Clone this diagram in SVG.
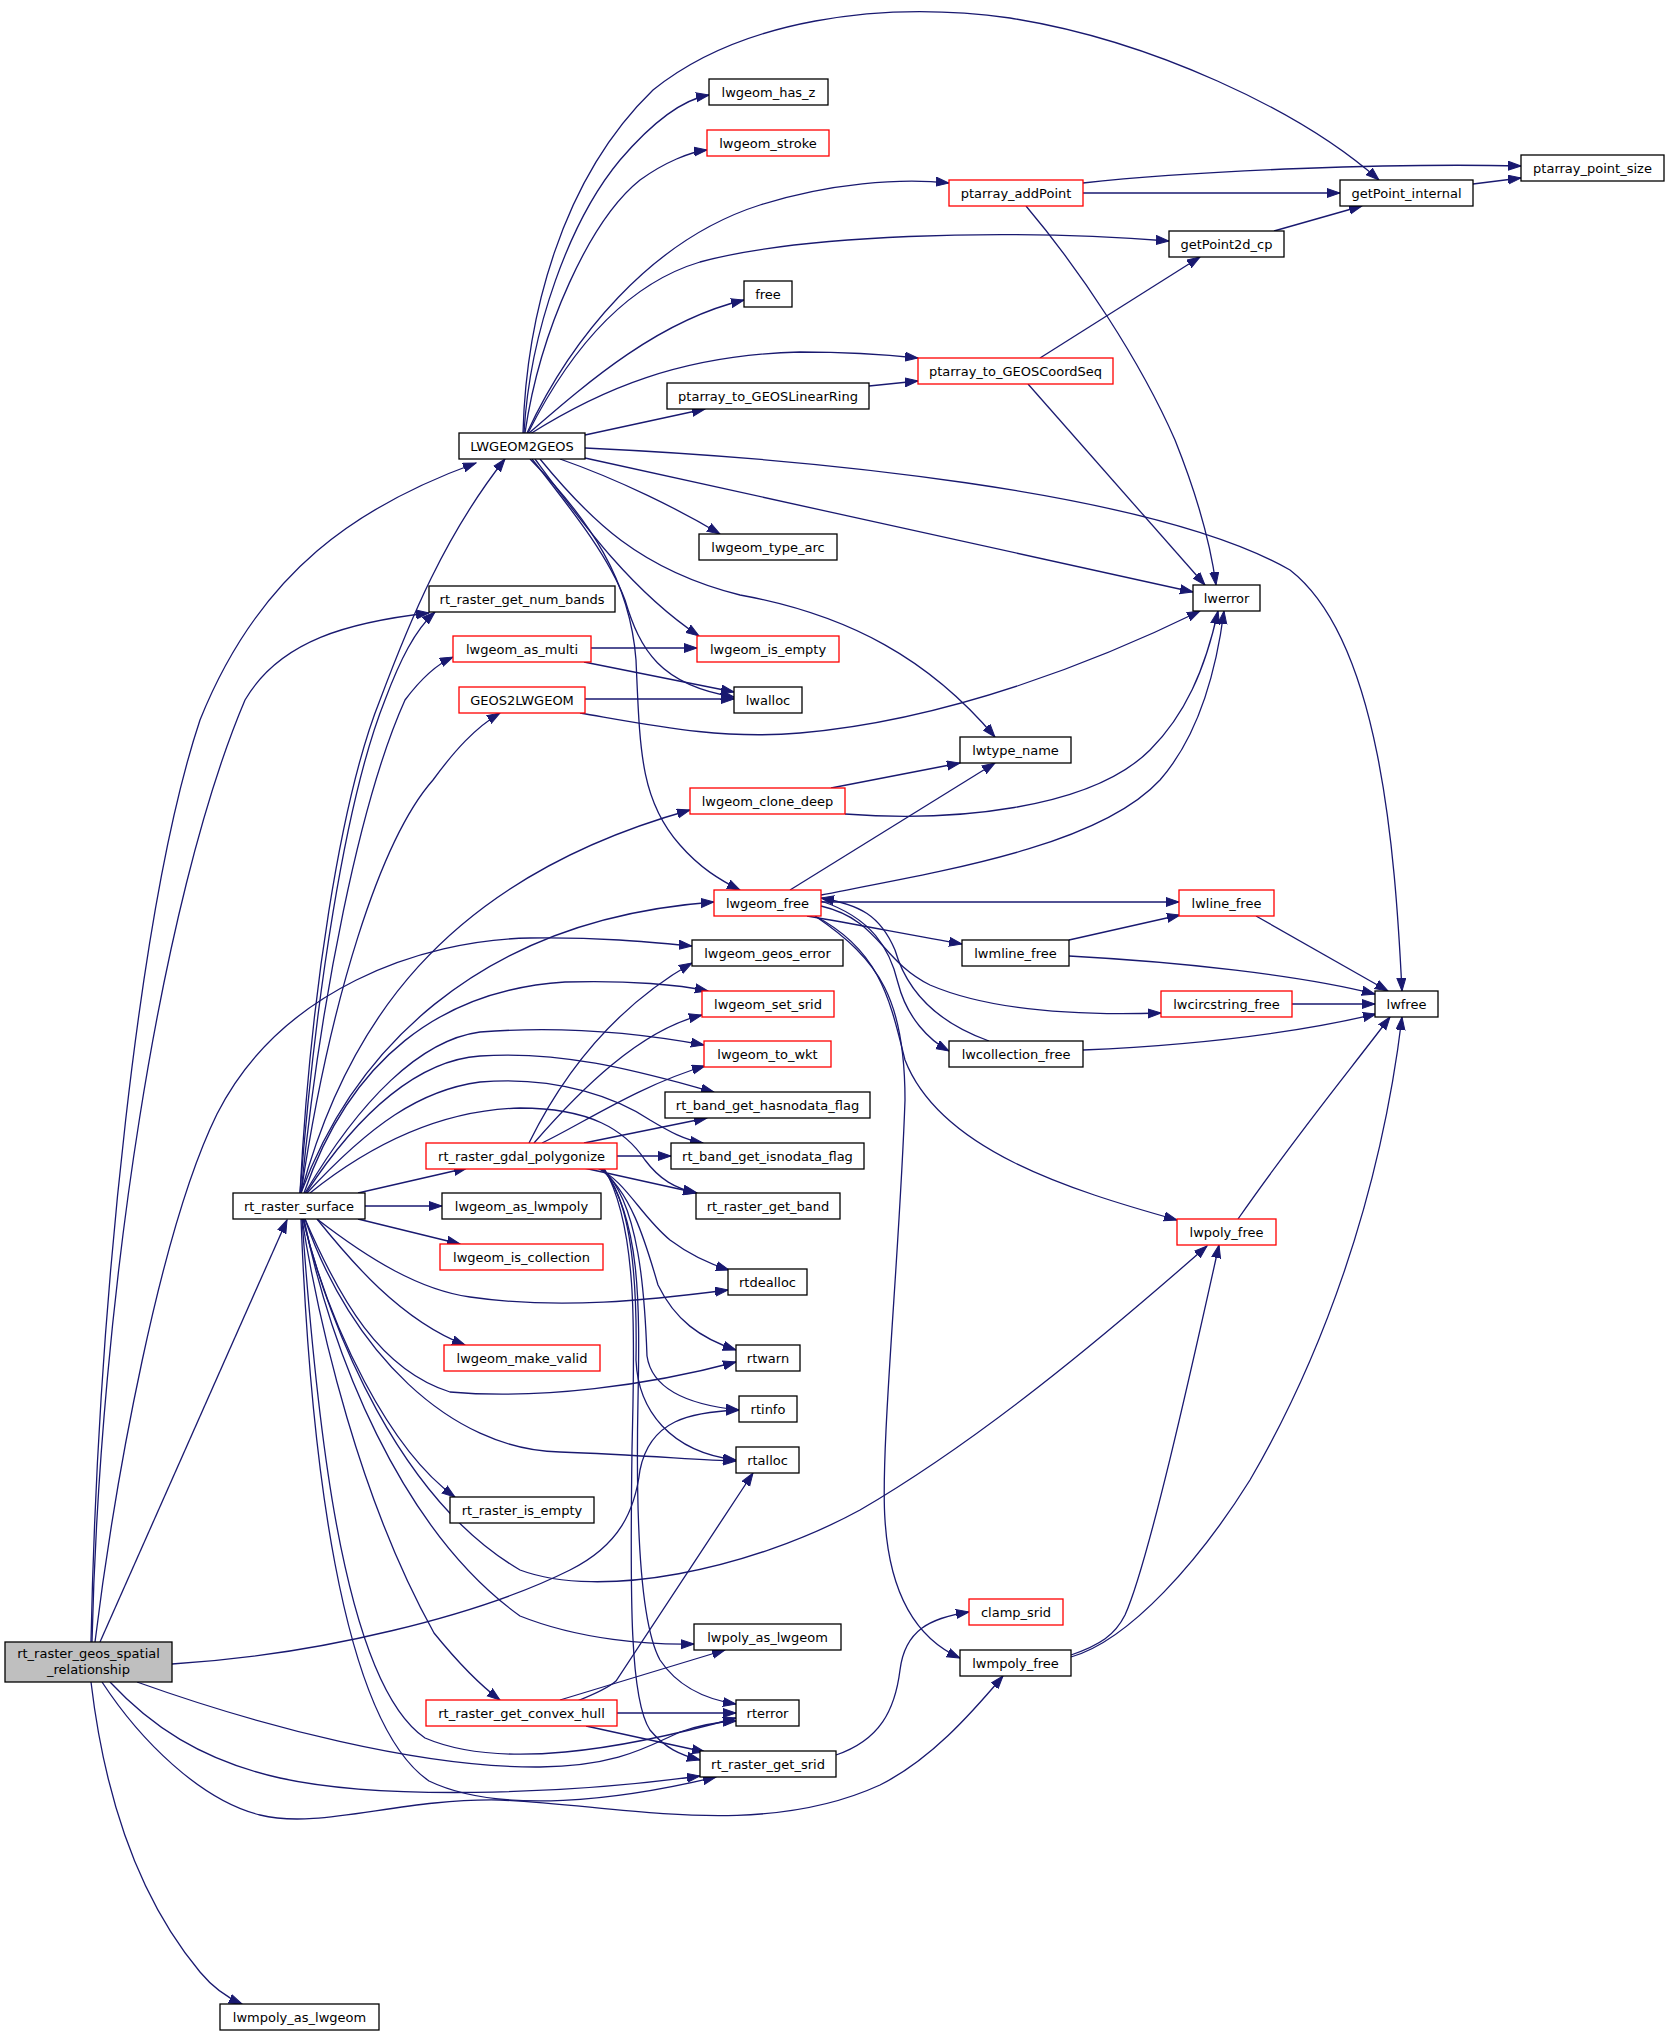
<svg xmlns="http://www.w3.org/2000/svg" width="1669" height="2036" viewBox="0 0 1669 2036">
<style>
.n rect{fill:#fff;stroke:#000;stroke-width:1.3}
.r rect{stroke:#f00}
.m rect{fill:#bfbfbf;stroke:#000;stroke-width:1.3}
text{font-family:"DejaVu Sans","Liberation Sans",sans-serif;font-size:13px;text-anchor:middle;fill:#000}
#edges path{fill:none;stroke:#191970;stroke-width:1.3;marker-end:url(#a)}
</style>
<defs>
<marker id="a" markerUnits="userSpaceOnUse" markerWidth="14" markerHeight="11" refX="13" refY="5" orient="auto"><path d="M0,0.5 L13,5 L0,9.5 z" fill="#191970" stroke="#191970" stroke-width="1"/></marker>
</defs>
<rect width="1669" height="2036" fill="#fff"/>
<g id="edges">
<path d="M91,1642 C98,1300 140,900 200,720 C260,570 360,505 476,463"/>
<path d="M92,1642 C100,1300 160,900 245,700 C280,640 350,622 429,613"/>
<path d="M100,1642 L287,1220"/>
<path d="M95,1642 C115,1480 160,1230 217,1114 C280,990 420,940 530,938 C600,937 650,942 692,946"/>
<path d="M172,1664 C320,1655 480,1615 570,1570 C620,1545 635,1510 640,1470 C650,1420 690,1412 739,1410"/>
<path d="M137,1682 C260,1726 420,1768 540,1767 C620,1766 650,1745 680,1732 C700,1725 718,1722 736,1721"/>
<path d="M110,1682 C150,1725 200,1760 280,1778 C380,1800 560,1795 700,1776"/>
<path d="M102,1682 C140,1740 200,1800 260,1815 C320,1830 400,1798 500,1800 C620,1805 760,1840 880,1785 C930,1760 970,1715 1003,1676"/>
<path d="M91,1682 C105,1800 140,1900 200,1972 C215,1990 228,1998 242,2004"/>
<path d="M300,1193 C310,1000 340,800 380,700 C410,620 445,535 505,459"/>
<path d="M300,1193 C315,1000 345,800 385,700 C400,660 415,630 435,612"/>
<path d="M301,1193 C320,1000 360,800 405,700 C420,680 435,665 453,657"/>
<path d="M301,1193 C330,1000 380,840 433,780 C455,750 475,728 500,713"/>
<path d="M301,1193 C345,1030 440,880 690,810"/>
<path d="M301,1193 C350,1060 470,920 714,902"/>
<path d="M304,1193 C350,1060 440,990 565,982 C630,980 680,985 708,991"/>
<path d="M305,1193 C360,1100 420,1040 480,1032 C570,1025 650,1035 704,1045"/>
<path d="M306,1193 C360,1110 420,1060 480,1056 C570,1050 650,1075 714,1092"/>
<path d="M307,1193 C370,1125 420,1090 480,1082 C560,1075 620,1100 650,1120 C670,1132 685,1140 703,1143"/>
<path d="M310,1193 C370,1145 440,1110 520,1108 C590,1108 625,1130 645,1160 C660,1180 675,1188 696,1193"/>
<path d="M358,1193 L467,1168"/>
<path d="M365,1206 L442,1206"/>
<path d="M358,1219 L460,1244"/>
<path d="M317,1219 C370,1260 420,1290 470,1297 C560,1310 650,1300 728,1290"/>
<path d="M317,1219 C350,1260 400,1320 465,1345"/>
<path d="M305,1219 C340,1300 380,1370 450,1392 C540,1400 650,1385 736,1362"/>
<path d="M305,1219 C350,1350 450,1450 560,1452 C640,1455 700,1460 736,1461"/>
<path d="M303,1219 C330,1330 390,1450 455,1497"/>
<path d="M303,1219 C330,1330 400,1500 520,1570 C600,1600 750,1570 860,1510 C980,1440 1100,1340 1207,1246"/>
<path d="M304,1219 C330,1350 400,1530 520,1616 C580,1640 650,1645 694,1644"/>
<path d="M302,1219 C320,1330 360,1500 434,1633 C460,1665 480,1685 500,1700"/>
<path d="M302,1219 C315,1400 340,1680 425,1738 C500,1770 620,1750 736,1718"/>
<path d="M301,1219 C310,1450 340,1720 429,1781 C500,1815 620,1800 716,1777"/>
<path d="M523,433 C526,320 560,180 653,90 C740,20 880,0 1010,18 C1150,40 1300,110 1379,180"/>
<path d="M524,433 C530,330 570,220 620,160 C650,125 680,100 709,95"/>
<path d="M525,433 C540,330 590,220 640,180 C665,162 690,152 707,150"/>
<path d="M527,433 C570,340 650,240 760,205 C830,183 900,178 949,183"/>
<path d="M528,433 C580,330 640,280 700,262 C800,235 1000,228 1169,241"/>
<path d="M529,433 C590,380 660,320 744,300"/>
<path d="M530,434 C600,390 680,355 800,352 C850,352 890,355 918,358"/>
<path d="M585,435 L705,409"/>
<path d="M585,448 C800,458 1150,490 1290,570 C1380,640 1395,850 1402,991"/>
<path d="M585,458 L1193,592"/>
<path d="M560,459 C620,480 680,510 720,534"/>
<path d="M540,459 C590,520 640,570 740,595 C850,615 930,660 995,737"/>
<path d="M535,459 C580,520 630,590 699,636"/>
<path d="M532,459 C580,520 610,560 625,600 C640,650 660,685 734,697"/>
<path d="M530,459 C590,520 630,580 636,660 C640,750 640,800 680,845 C700,868 720,880 740,890"/>
<path d="M1083,183 C1200,170 1400,163 1521,166"/>
<path d="M1083,193 L1340,193"/>
<path d="M1026,206 C1080,270 1140,360 1175,440 C1195,490 1210,540 1216,585"/>
<path d="M1040,358 L1200,257"/>
<path d="M1028,384 L1205,585"/>
<path d="M869,386 L918,381"/>
<path d="M1473,184 L1521,178"/>
<path d="M1274,231 L1362,206"/>
<path d="M591,648 L697,648"/>
<path d="M584,662 L734,692"/>
<path d="M585,699 L734,699"/>
<path d="M580,713 C650,725 720,740 800,733 C950,720 1100,660 1200,611"/>
<path d="M831,788 L960,763"/>
<path d="M845,814 C950,822 1090,810 1150,750 C1185,715 1205,670 1218,611"/>
<path d="M821,895 C950,870 1100,845 1160,780 C1195,740 1215,680 1224,611"/>
<path d="M790,890 L995,763"/>
<path d="M821,902 L1179,902"/>
<path d="M807,916 C860,925 910,935 962,944"/>
<path d="M1069,940 L1180,915"/>
<path d="M1069,956 C1180,962 1300,975 1375,994"/>
<path d="M821,906 C880,920 880,960 930,985 C1000,1015 1100,1015 1161,1013"/>
<path d="M1292,1004 L1375,1004"/>
<path d="M1256,916 L1388,991"/>
<path d="M821,901 C872,918 890,949 898,983 C907,1018 929,1040 949,1051"/>
<path d="M989,1041 C930,1020 905,985 895,950 C880,915 860,905 821,898"/>
<path d="M1083,1050 C1200,1045 1300,1032 1376,1014"/>
<path d="M815,916 C880,950 890,1000 905,1060 C940,1150 1070,1190 1177,1220"/>
<path d="M815,916 C880,960 905,1000 905,1100 C900,1250 880,1450 885,1520 C890,1600 920,1640 960,1658"/>
<path d="M1238,1219 C1300,1130 1350,1070 1390,1017"/>
<path d="M1071,1655 C1100,1645 1115,1635 1125,1615 C1150,1560 1200,1330 1219,1245"/>
<path d="M1071,1657 C1130,1640 1200,1560 1250,1480 C1320,1360 1380,1200 1402,1017"/>
<path d="M836,1755 C880,1740 895,1710 900,1670 C905,1630 930,1618 969,1612"/>
<path d="M617,1713 L736,1713"/>
<path d="M560,1700 L725,1650"/>
<path d="M577,1701 C595,1694 608,1688 616,1681 L753,1473"/>
<path d="M586,1726 L705,1752"/>
<path d="M529,1143 C560,1080 610,1010 692,963"/>
<path d="M534,1143 C580,1090 640,1030 702,1015"/>
<path d="M542,1143 C580,1125 640,1085 705,1066"/>
<path d="M584,1143 L707,1118"/>
<path d="M617,1156 L671,1156"/>
<path d="M584,1168 L697,1193"/>
<path d="M597,1168 C625,1180 640,1215 670,1240 C690,1255 710,1264 729,1270"/>
<path d="M599,1168 C630,1190 645,1240 658,1285 C675,1320 700,1338 736,1350"/>
<path d="M601,1168 C640,1200 645,1300 647,1356 C652,1390 690,1405 739,1410"/>
<path d="M601,1168 C635,1200 637,1300 636,1360 C638,1410 670,1452 736,1460"/>
<path d="M603,1168 C640,1220 640,1300 638,1400 C636,1500 638,1620 660,1660 C680,1690 710,1700 736,1704"/>
<path d="M604,1168 C640,1230 634,1350 632,1450 C630,1600 630,1700 650,1730 C665,1748 680,1755 700,1760"/>
</g>
<g id="n_main" class="m"><rect x="5" y="1642" width="167" height="40"/><text x="88.5" y="1658">rt_raster_geos_spatial</text><text x="88.5" y="1674">_relationship</text></g>
<g id="n_LWGEOM2GEOS" class="n"><rect x="459" y="433" width="126" height="26"/><text x="522" y="450.5">LWGEOM2GEOS</text></g>
<g id="n_rt_raster_get_num_bands" class="n"><rect x="429" y="586" width="186" height="26"/><text x="522" y="603.5">rt_raster_get_num_bands</text></g>
<g id="n_lwgeom_as_multi" class="n r"><rect x="453" y="636" width="138" height="26"/><text x="522" y="653.5">lwgeom_as_multi</text></g>
<g id="n_GEOS2LWGEOM" class="n r"><rect x="459" y="687" width="126" height="26"/><text x="522" y="704.5">GEOS2LWGEOM</text></g>
<g id="n_rt_raster_surface" class="n"><rect x="233" y="1193" width="132" height="26"/><text x="299" y="1210.5">rt_raster_surface</text></g>
<g id="n_lwmpoly_as_lwgeom" class="n"><rect x="220" y="2004" width="159" height="26"/><text x="299.5" y="2021.5">lwmpoly_as_lwgeom</text></g>
<g id="n_lwgeom_has_z" class="n"><rect x="709" y="79" width="119" height="26"/><text x="768.5" y="96.5">lwgeom_has_z</text></g>
<g id="n_lwgeom_stroke" class="n r"><rect x="707" y="130" width="122" height="26"/><text x="768" y="147.5">lwgeom_stroke</text></g>
<g id="n_ptarray_addPoint" class="n r"><rect x="949" y="180" width="134" height="26"/><text x="1016" y="197.5">ptarray_addPoint</text></g>
<g id="n_free" class="n"><rect x="744" y="281" width="48" height="26"/><text x="768" y="298.5">free</text></g>
<g id="n_ptarray_to_GEOSCoordSeq" class="n r"><rect x="918" y="358" width="195" height="26"/><text x="1015.5" y="375.5">ptarray_to_GEOSCoordSeq</text></g>
<g id="n_ptarray_to_GEOSLinearRing" class="n"><rect x="667" y="383" width="202" height="26"/><text x="768" y="400.5">ptarray_to_GEOSLinearRing</text></g>
<g id="n_lwgeom_type_arc" class="n"><rect x="699" y="534" width="138" height="26"/><text x="768" y="551.5">lwgeom_type_arc</text></g>
<g id="n_lwgeom_is_empty" class="n r"><rect x="697" y="636" width="142" height="26"/><text x="768" y="653.5">lwgeom_is_empty</text></g>
<g id="n_lwalloc" class="n"><rect x="734" y="687" width="68" height="26"/><text x="768" y="704.5">lwalloc</text></g>
<g id="n_lwtype_name" class="n"><rect x="960" y="737" width="111" height="26"/><text x="1015.5" y="754.5">lwtype_name</text></g>
<g id="n_lwgeom_clone_deep" class="n r"><rect x="690" y="788" width="155" height="26"/><text x="767.5" y="805.5">lwgeom_clone_deep</text></g>
<g id="n_lwgeom_free" class="n r"><rect x="714" y="890" width="107" height="26"/><text x="767.5" y="907.5">lwgeom_free</text></g>
<g id="n_lwgeom_geos_error" class="n"><rect x="692" y="940" width="151" height="26"/><text x="767.5" y="957.5">lwgeom_geos_error</text></g>
<g id="n_lwgeom_set_srid" class="n r"><rect x="702" y="991" width="132" height="26"/><text x="768" y="1008.5">lwgeom_set_srid</text></g>
<g id="n_lwgeom_to_wkt" class="n r"><rect x="704" y="1041" width="127" height="26"/><text x="767.5" y="1058.5">lwgeom_to_wkt</text></g>
<g id="n_rt_band_get_hasnodata_flag" class="n"><rect x="665" y="1092" width="205" height="26"/><text x="767.5" y="1109.5">rt_band_get_hasnodata_flag</text></g>
<g id="n_rt_raster_gdal_polygonize" class="n r"><rect x="426" y="1143" width="191" height="26"/><text x="521.5" y="1160.5">rt_raster_gdal_polygonize</text></g>
<g id="n_rt_band_get_isnodata_flag" class="n"><rect x="671" y="1143" width="193" height="26"/><text x="767.5" y="1160.5">rt_band_get_isnodata_flag</text></g>
<g id="n_lwgeom_as_lwmpoly" class="n"><rect x="442" y="1193" width="159" height="26"/><text x="521.5" y="1210.5">lwgeom_as_lwmpoly</text></g>
<g id="n_rt_raster_get_band" class="n"><rect x="696" y="1193" width="144" height="26"/><text x="768" y="1210.5">rt_raster_get_band</text></g>
<g id="n_lwgeom_is_collection" class="n r"><rect x="440" y="1244" width="163" height="26"/><text x="521.5" y="1261.5">lwgeom_is_collection</text></g>
<g id="n_rtdealloc" class="n"><rect x="728" y="1269" width="79" height="26"/><text x="767.5" y="1286.5">rtdealloc</text></g>
<g id="n_lwgeom_make_valid" class="n r"><rect x="444" y="1345" width="156" height="26"/><text x="522" y="1362.5">lwgeom_make_valid</text></g>
<g id="n_rtwarn" class="n"><rect x="736" y="1345" width="64" height="26"/><text x="768" y="1362.5">rtwarn</text></g>
<g id="n_rtinfo" class="n"><rect x="739" y="1396" width="58" height="26"/><text x="768" y="1413.5">rtinfo</text></g>
<g id="n_rtalloc" class="n"><rect x="736" y="1447" width="63" height="26"/><text x="767.5" y="1464.5">rtalloc</text></g>
<g id="n_rt_raster_is_empty" class="n"><rect x="450" y="1497" width="144" height="26"/><text x="522" y="1514.5">rt_raster_is_empty</text></g>
<g id="n_lwpoly_as_lwgeom" class="n"><rect x="694" y="1624" width="147" height="26"/><text x="767.5" y="1641.5">lwpoly_as_lwgeom</text></g>
<g id="n_rt_raster_get_convex_hull" class="n r"><rect x="426" y="1700" width="191" height="26"/><text x="521.5" y="1717.5">rt_raster_get_convex_hull</text></g>
<g id="n_rterror" class="n"><rect x="736" y="1700" width="63" height="26"/><text x="767.5" y="1717.5">rterror</text></g>
<g id="n_rt_raster_get_srid" class="n"><rect x="700" y="1751" width="136" height="26"/><text x="768" y="1768.5">rt_raster_get_srid</text></g>
<g id="n_clamp_srid" class="n r"><rect x="969" y="1599" width="94" height="26"/><text x="1016" y="1616.5">clamp_srid</text></g>
<g id="n_lwmpoly_free" class="n"><rect x="960" y="1650" width="111" height="26"/><text x="1015.5" y="1667.5">lwmpoly_free</text></g>
<g id="n_ptarray_point_size" class="n"><rect x="1521" y="155" width="143" height="26"/><text x="1592.5" y="172.5">ptarray_point_size</text></g>
<g id="n_getPoint_internal" class="n"><rect x="1340" y="180" width="133" height="26"/><text x="1406.5" y="197.5">getPoint_internal</text></g>
<g id="n_getPoint2d_cp" class="n"><rect x="1169" y="231" width="115" height="26"/><text x="1226.5" y="248.5">getPoint2d_cp</text></g>
<g id="n_lwerror" class="n"><rect x="1193" y="585" width="67" height="26"/><text x="1226.5" y="602.5">lwerror</text></g>
<g id="n_lwline_free" class="n r"><rect x="1179" y="890" width="95" height="26"/><text x="1226.5" y="907.5">lwline_free</text></g>
<g id="n_lwmline_free" class="n"><rect x="962" y="940" width="107" height="26"/><text x="1015.5" y="957.5">lwmline_free</text></g>
<g id="n_lwcircstring_free" class="n r"><rect x="1161" y="991" width="131" height="26"/><text x="1226.5" y="1008.5">lwcircstring_free</text></g>
<g id="n_lwfree" class="n"><rect x="1375" y="991" width="63" height="26"/><text x="1406.5" y="1008.5">lwfree</text></g>
<g id="n_lwcollection_free" class="n"><rect x="949" y="1041" width="134" height="26"/><text x="1016" y="1058.5">lwcollection_free</text></g>
<g id="n_lwpoly_free" class="n r"><rect x="1177" y="1219" width="99" height="26"/><text x="1226.5" y="1236.5">lwpoly_free</text></g>
</svg>
